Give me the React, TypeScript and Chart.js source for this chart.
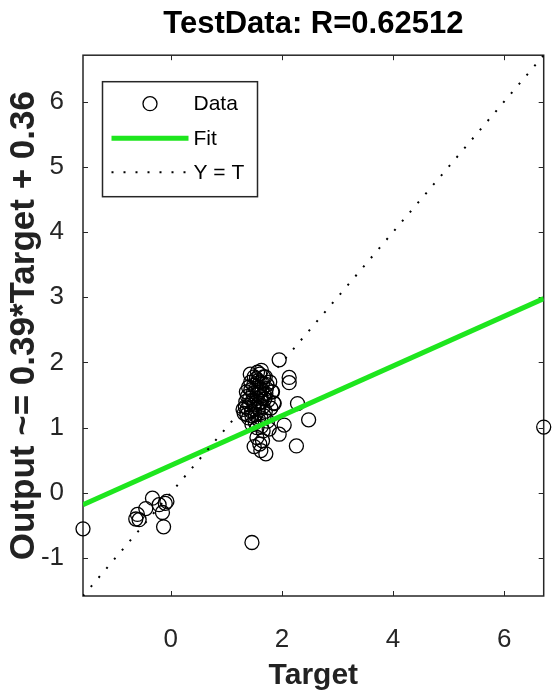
import React, { useEffect, useRef } from "react";
import { Chart, registerables } from "chart.js";

Chart.register(...registerables);

// ---- data ----
const AXIS_MIN = -1.58;
const AXIS_MAX = 6.71;
const xTickValues = [0, 2, 4, 6];
const yTickValues = [-1, 0, 1, 2, 3, 4, 5, 6];

const titleText = "TestData: R=0.62512";
const xTitleText = "Target";
const yTitleText = "Output ~= 0.39*Target + 0.36";
const legendLabels = ["Data", "Fit", "Y = T"];

const targets = [
  -1.58, 6.71, 1.46,
  -0.6, -0.57, -0.63, -0.45, -0.33, -0.21, -0.07, -0.15, -0.13, -0.1,
  1.95, 2.13, 2.13, 2.28, 2.48, 2.26, 2.04, 1.95, 1.77, 1.5, 1.62, 1.71, 1.86, 1.83,
  1.3, 1.32, 1.35, 1.36, 1.38, 1.4, 1.4, 1.42, 1.44, 1.45, 1.46, 1.48, 1.5, 1.5,
  1.52, 1.53, 1.55, 1.55, 1.57, 1.58, 1.6, 1.6, 1.62, 1.63, 1.65, 1.66, 1.68, 1.7,
  1.7, 1.72, 1.74, 1.75, 1.78, 1.8, 1.82, 1.85, 1.55, 1.6, 1.65,
  1.38, 1.42, 1.44, 1.47, 1.49, 1.51, 1.54, 1.56, 1.58, 1.59, 1.61, 1.62, 1.64, 1.66,
  1.67, 1.69, 1.71, 1.73, 1.46, 1.52, 1.58, 1.63, 1.68, 1.34, 1.37, 1.43, 1.56, 1.63,
];
const outputs = [
  -0.55, 1.01, -0.76,
  -0.33, -0.41, -0.4, -0.24, -0.08, -0.18, -0.13, -0.3, -0.52, -0.16,
  2.04, 1.77, 1.69, 1.37, 1.12, 0.72, 1.04, 0.9, 0.98, 0.71, 0.65, 0.6, 1.37, 1.55,
  1.28, 1.22, 1.4, 1.55, 1.3, 1.62, 1.15, 1.45, 1.7, 1.25, 1.05, 1.52, 1.78, 1.35,
  1.2, 1.6, 1.45, 1.0, 1.72, 1.3, 1.82, 1.55, 1.15, 1.4, 1.68, 0.95, 1.5, 1.78,
  1.25, 1.6, 1.1, 1.42, 1.7, 1.3, 1.55, 1.38, 0.85, 0.75, 0.8,
  1.48, 1.35, 1.58, 1.42, 1.65, 1.28, 1.75, 1.52, 1.62, 1.38, 1.7, 1.48, 1.58, 1.32,
  1.78, 1.44, 1.52, 1.66, 1.18, 1.08, 1.12, 1.02, 1.18, 1.32, 1.2, 1.82, 1.85, 1.88,
];

const fitTargets = [-1.58, 6.71];
const fitOutputs = [-0.18, 2.98];
const identityTargets = [-1.58, 6.71];
const identityOutputs = [-1.58, 6.71];

// ---- styles ----
const AXIS_COLOR = "#262626";
const FIT_COLOR = "#1ee61e";
const SANS = "'Liberation Sans', Arial, sans-serif";

const toPoints = (xs: number[], ys: number[]) => xs.map((x, i) => ({ x, y: ys[i] }));

const frameAndTicks = {
  id: "frameAndTicks",
  beforeDatasetsDraw(chart: any) {
    const { ctx, chartArea } = chart;
    const { left, right, top, bottom } = chartArea;
    const xs = chart.scales.x;
    const ys = chart.scales.y;
    const len = 5;
    ctx.save();
    ctx.strokeStyle = AXIS_COLOR;
    ctx.lineWidth = 1;
    ctx.beginPath();
    xs.ticks.forEach((t: any) => {
      const px = Math.round(xs.getPixelForValue(t.value)) + 0.5;
      ctx.moveTo(px, bottom);
      ctx.lineTo(px, bottom - len);
      ctx.moveTo(px, top);
      ctx.lineTo(px, top + len);
    });
    ys.ticks.forEach((t: any) => {
      const py = Math.round(ys.getPixelForValue(t.value)) + 0.5;
      ctx.moveTo(left, py);
      ctx.lineTo(left + len, py);
      ctx.moveTo(right, py);
      ctx.lineTo(right - len, py);
    });
    ctx.stroke();
    ctx.lineWidth = 1.5;
    ctx.strokeRect(left, top, right - left, bottom - top);
    ctx.restore();
  },
};

const boxLegend = {
  id: "boxLegend",
  afterDraw(chart: any) {
    const { ctx, chartArea } = chart;
    const bx = chartArea.left + 19.5;
    const by = chartArea.top + 26.5;
    const bw = 155;
    const bh = 115;
    ctx.save();
    ctx.fillStyle = "#ffffff";
    ctx.fillRect(bx, by, bw, bh);
    ctx.strokeStyle = AXIS_COLOR;
    ctx.lineWidth = 1.5;
    ctx.strokeRect(bx, by, bw, bh);
    const rows = [22, 56.5, 90.5];
    const sx0 = bx + 9;
    const sx1 = bx + 86;
    const tx = bx + 91;
    legendLabels.forEach((label, i) => {
      const ds = chart.data.datasets.find((d: any) => d.label === label);
      const cy = by + rows[i];
      ctx.save();
      ctx.strokeStyle = ds.borderColor;
      ctx.lineWidth = ds.borderWidth;
      if (ds.showLine) {
        ctx.setLineDash(ds.borderDash || []);
        ctx.beginPath();
        ctx.moveTo(sx0, cy);
        ctx.lineTo(sx1, cy);
        ctx.stroke();
      } else {
        ctx.beginPath();
        ctx.arc((sx0 + sx1) / 2, cy, ds.pointRadius, 0, Math.PI * 2);
        ctx.stroke();
      }
      ctx.restore();
      ctx.fillStyle = "#000";
      ctx.font = `21px ${SANS}`;
      ctx.textBaseline = "middle";
      ctx.textAlign = "left";
      ctx.fillText(label, tx, cy + 1);
    });
    ctx.restore();
  },
};

export default function App() {
  const canvasRef = useRef<HTMLCanvasElement | null>(null);

  useEffect(() => {
    const canvas = canvasRef.current;
    if (!canvas) return;
    const chart = new Chart(canvas, {
      type: "scatter",
      data: {
        datasets: [
          {
            label: "Y = T",
            data: toPoints(identityTargets, identityOutputs),
            showLine: true,
            pointRadius: 0,
            borderColor: "#000000",
            borderWidth: 2,
            borderDash: [2, 10],
            fill: false,
          },
          {
            label: "Fit",
            data: toPoints(fitTargets, fitOutputs),
            showLine: true,
            pointRadius: 0,
            borderColor: FIT_COLOR,
            borderWidth: 5,
            fill: false,
          },
          {
            label: "Data",
            data: toPoints(targets, outputs),
            showLine: false,
            pointStyle: "circle",
            pointRadius: 7,
            borderWidth: 1.3,
            borderColor: "#000000",
            backgroundColor: "rgba(0,0,0,0)",
            clip: false,
          } as any,
        ],
      },
      options: {
        animation: false,
        responsive: false,
        events: [],
        layout: { padding: { left: 0, right: 7, top: 0, bottom: 0 } },
        plugins: {
          legend: { display: false },
          tooltip: { enabled: false },
          title: {
            display: true,
            text: titleText,
            fullSize: false,
            color: "#000",
            font: { family: SANS, size: 31, weight: "bold" },
            padding: { top: 6, bottom: 12 },
          },
        },
        scales: {
          x: {
            type: "linear",
            min: AXIS_MIN,
            max: AXIS_MAX,
            afterBuildTicks: (scale: any) => {
              scale.ticks = xTickValues.map((v) => ({ value: v }));
            },
            afterFit: (scale: any) => {
              scale.height = 99;
            },
            grid: { display: false },
            border: { display: false },
            ticks: {
              color: AXIS_COLOR,
              font: { family: SANS, size: 26 },
              padding: 20,
              maxRotation: 0,
            },
            title: {
              display: true,
              text: xTitleText,
              color: "#222",
              font: { family: SANS, size: 30, weight: "bold" },
              padding: { top: 0, bottom: 1 },
            },
          },
          y: {
            type: "linear",
            min: AXIS_MIN,
            max: AXIS_MAX,
            afterBuildTicks: (scale: any) => {
              scale.ticks = yTickValues.map((v) => ({ value: v }));
            },
            afterFit: (scale: any) => {
              scale.width = 83;
            },
            grid: { display: false },
            border: { display: false },
            ticks: {
              color: AXIS_COLOR,
              font: { family: SANS, size: 26 },
              padding: 11,
            },
            title: {
              display: true,
              text: yTitleText,
              color: "#222",
              font: { family: SANS, size: 35, weight: "bold" },
              padding: { top: 3, bottom: 0 },
            },
          },
        },
      },
      plugins: [frameAndTicks, boxLegend],
    });
    return () => chart.destroy();
  }, []);

  return (
    <div style={{ position: "absolute", left: 0, top: 0, width: 552, height: 695, background: "#fff" }}>
      <canvas ref={canvasRef} width={552} height={695} style={{ display: "block", width: 552, height: 695 }} />
    </div>
  );
}
